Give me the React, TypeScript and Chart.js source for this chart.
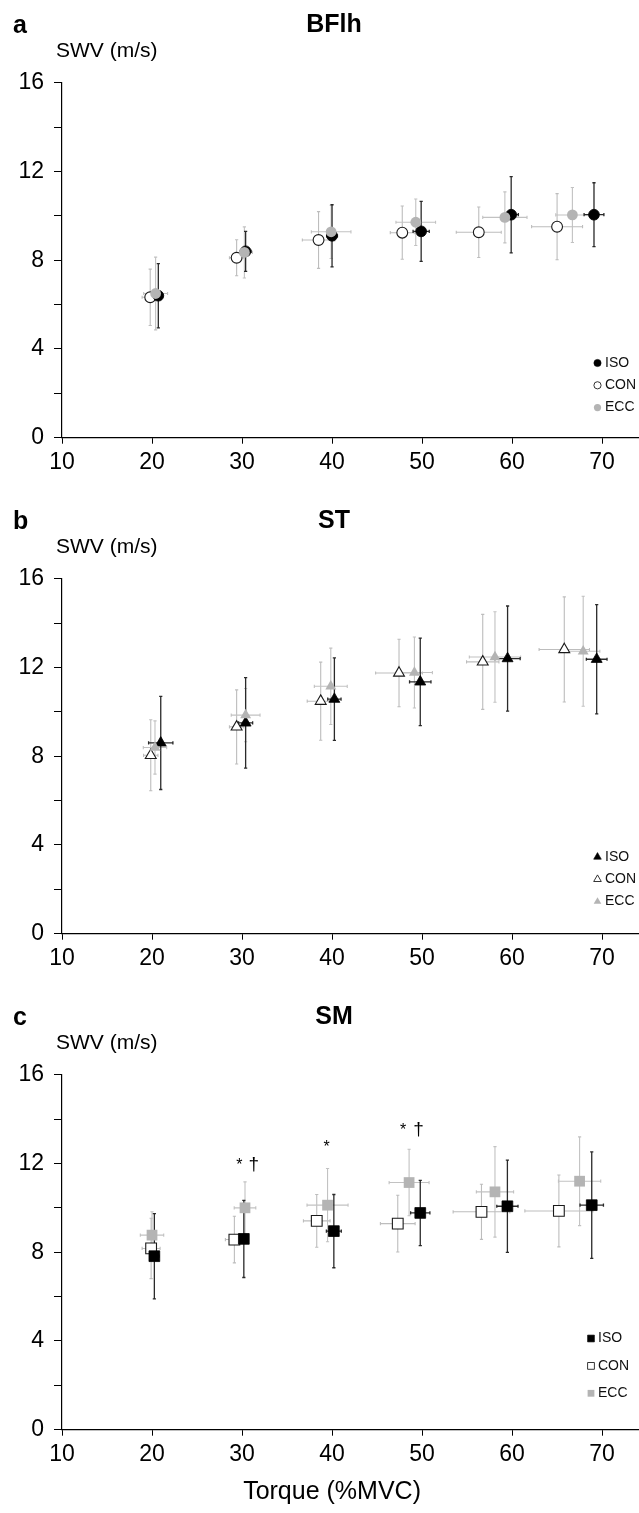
import React, { useEffect, useRef } from 'react';
import { Chart, registerables } from 'chart.js';

Chart.register(...registerables);

const FONT = '"Liberation Sans", Arial, Helvetica, sans-serif';

// ---------- axes ----------
const X_TICKS = [10, 20, 30, 40, 50, 60, 70];
const Y_TICKS = [0, 2, 4, 6, 8, 10, 12, 14, 16];
const Y_TICK_LABELS = ['0', '', '4', '', '8', '', '12', '', '16'];
const X_MIN = 10;
const X_MAX = 74.1;
const Y_MIN = 0;
const Y_MAX = 16;
const X_TITLE = 'Torque (%MVC)';
const Y_TITLE = 'SWV (m/s)';
const SERIES_NAMES = ['ISO', 'CON', 'ECC'];
const PANEL_LETTERS = ['a', 'b', 'c'];
const PANEL_TITLES = ['BFlh', 'ST', 'SM'];

// ---------- panel a: BFlh ----------
const BFLH_ISO_X = [20.7, 30.4, 40.0, 49.9, 59.9, 69.1];
const BFLH_ISO_Y = [6.4, 8.4, 9.1, 9.3, 10.05, 10.05];
const BFLH_ISO_XERR = [0.5, 0.6, 0.6, 0.9, 0.8, 1.1];
const BFLH_ISO_YERR = [1.45, 0.9, 1.4, 1.35, 1.72, 1.44];
const BFLH_CON_X = [19.8, 29.4, 38.5, 47.8, 56.3, 65.0];
const BFLH_CON_Y = [6.33, 8.11, 8.91, 9.24, 9.26, 9.51];
const BFLH_CON_XERR = [0.9, 0.8, 1.8, 1.33, 2.5, 2.83];
const BFLH_CON_YERR = [1.27, 0.81, 1.28, 1.2, 1.14, 1.49];
const BFLH_ECC_X = [20.4, 30.26, 39.9, 49.3, 59.2, 66.7];
const BFLH_ECC_Y = [6.5, 8.35, 9.28, 9.71, 9.93, 10.04];
const BFLH_ECC_XERR = [1.33, 0.9, 2.2, 2.2, 2.46, 1.85];
const BFLH_ECC_YERR = [1.64, 1.15, 1.2, 1.05, 1.15, 1.24];

// ---------- panel b: ST ----------
const ST_ISO_X = [20.97, 30.4, 40.26, 49.8, 59.5, 69.4];
const ST_ISO_Y = [8.6, 9.5, 10.57, 11.35, 12.4, 12.37];
const ST_ISO_XERR = [1.35, 0.78, 0.74, 1.19, 1.4, 1.15];
const ST_ISO_YERR = [2.1, 2.04, 1.86, 1.97, 2.37, 2.46];
const ST_CON_X = [19.86, 29.4, 38.74, 47.44, 56.74, 65.8];
const ST_CON_Y = [8.04, 9.32, 10.48, 11.75, 12.25, 12.81];
const ST_CON_XERR = [0.8, 0.8, 1.5, 2.6, 1.8, 2.8];
const ST_CON_YERR = [1.6, 1.67, 1.76, 1.52, 2.14, 2.37];
const ST_ECC_X = [20.33, 30.4, 39.86, 49.15, 58.1, 67.9];
const ST_ECC_Y = [8.39, 9.85, 11.15, 11.77, 12.47, 12.73];
const ST_ECC_XERR = [1.3, 1.6, 1.83, 2.0, 2.85, 1.85];
const ST_ECC_YERR = [1.2, 1.2, 1.72, 1.6, 2.04, 2.48];

// ---------- panel c: SM ----------
const SM_ISO_X = [20.26, 30.2, 40.2, 49.8, 59.48, 68.85];
const SM_ISO_Y = [7.82, 8.6, 8.95, 9.77, 10.07, 10.12];
const SM_ISO_XERR = [0.5, 0.5, 0.83, 1.07, 1.18, 1.3];
const SM_ISO_YERR = [1.92, 1.74, 1.65, 1.47, 2.08, 2.4];
const SM_CON_X = [19.9, 29.15, 38.3, 47.3, 56.6, 65.2];
const SM_CON_Y = [8.17, 8.57, 9.41, 9.29, 9.82, 9.86];
const SM_CON_XERR = [1.0, 1.0, 1.48, 1.93, 3.15, 3.78];
const SM_CON_YERR = [1.36, 1.05, 1.19, 1.28, 1.24, 1.62];
const SM_ECC_X = [20.0, 30.33, 39.5, 48.56, 58.1, 67.5];
const SM_ECC_Y = [8.77, 10.0, 10.12, 11.14, 10.72, 11.2];
const SM_ECC_XERR = [1.3, 1.2, 2.28, 2.22, 2.07, 2.35];
const SM_ECC_YERR = [1.05, 1.17, 1.65, 1.5, 2.04, 2.0];

// significance marks (SM panel)
const SM_MARK_TEXT = ['*', '†', '*', '*', '†'];
const SM_MARK_X = [29.7, 31.3, 39.4, 47.9, 49.6];
const SM_MARK_Y = [11.7, 11.7, 12.5, 13.27, 13.27];

// ---------- styles ----------
const STYLE = {
  ISO: { fill: '#000000', border: '#000000', borderWidth: 0.8, bar: '#2a2a2a', barWidth: 1.3, order: 2 },
  CON: { fill: '#ffffff', border: '#1a1a1a', borderWidth: 1.1, bar: '#bdbdbd', barWidth: 1.1, order: 3 },
  ECC: { fill: '#b4b4b4', border: '#b4b4b4', borderWidth: 0, bar: '#c2c2c2', barWidth: 1.1, order: 1 },
};

type PanelDef = {
  letter: string;
  title: string;
  pointStyle: string;
  radius: number;
  legendRadius: number;
  legend: { y0: number; gap: number; mx: number; tx: number };
  series: { name: string; x: number[]; y: number[]; xErr: number[]; yErr: number[] }[];
  marks?: { text: string[]; x: number[]; y: number[] };
  height: number;
  top: number;
  showXTitle: boolean;
};

const PANELS: PanelDef[] = [
  {
    letter: PANEL_LETTERS[0], title: PANEL_TITLES[0], pointStyle: 'circle', radius: 5.4, legendRadius: 3.6,
    legend: { y0: 363, gap: 22.3, mx: 597.5, tx: 605 },
    series: [
      { name: SERIES_NAMES[0], x: BFLH_ISO_X, y: BFLH_ISO_Y, xErr: BFLH_ISO_XERR, yErr: BFLH_ISO_YERR },
      { name: SERIES_NAMES[1], x: BFLH_CON_X, y: BFLH_CON_Y, xErr: BFLH_CON_XERR, yErr: BFLH_CON_YERR },
      { name: SERIES_NAMES[2], x: BFLH_ECC_X, y: BFLH_ECC_Y, xErr: BFLH_ECC_XERR, yErr: BFLH_ECC_YERR },
    ],
    height: 496, top: 0, showXTitle: false,
  },
  {
    letter: PANEL_LETTERS[1], title: PANEL_TITLES[1], pointStyle: 'triangle', radius: 6.3, legendRadius: 4.4,
    legend: { y0: 361, gap: 22.3, mx: 597.5, tx: 605 },
    series: [
      { name: SERIES_NAMES[0], x: ST_ISO_X, y: ST_ISO_Y, xErr: ST_ISO_XERR, yErr: ST_ISO_YERR },
      { name: SERIES_NAMES[1], x: ST_CON_X, y: ST_CON_Y, xErr: ST_CON_XERR, yErr: ST_CON_YERR },
      { name: SERIES_NAMES[2], x: ST_ECC_X, y: ST_ECC_Y, xErr: ST_ECC_XERR, yErr: ST_ECC_YERR },
    ],
    height: 496, top: 496, showXTitle: false,
  },
  {
    letter: PANEL_LETTERS[2], title: PANEL_TITLES[2], pointStyle: 'rect', radius: 7.6, legendRadius: 4.8,
    legend: { y0: 346.5, gap: 27.4, mx: 591, tx: 598 },
    series: [
      { name: SERIES_NAMES[0], x: SM_ISO_X, y: SM_ISO_Y, xErr: SM_ISO_XERR, yErr: SM_ISO_YERR },
      { name: SERIES_NAMES[1], x: SM_CON_X, y: SM_CON_Y, xErr: SM_CON_XERR, yErr: SM_CON_YERR },
      { name: SERIES_NAMES[2], x: SM_ECC_X, y: SM_ECC_Y, xErr: SM_ECC_XERR, yErr: SM_ECC_YERR },
    ],
    marks: { text: SM_MARK_TEXT, x: SM_MARK_X, y: SM_MARK_Y },
    height: 521, top: 992, showXTitle: true,
  },
];

const AXIS_TOP = 82.7;
const AXIS_BOTTOM = 437.7;
const AXIS_LEFT = 62;

const errorBarPlugin = {
  id: 'errorBars',
  beforeDatasetsDraw(chart: any) {
    const { ctx } = chart;
    const xs = chart.scales.x;
    const ys = chart.scales.y;
    const sets = [...chart.data.datasets].sort((a: any, b: any) => b.order - a.order);
    const drawOrder = [...sets.filter((d: any) => d.label !== 'ISO'), ...sets.filter((d: any) => d.label === 'ISO')];
    ctx.save();
    drawOrder.forEach((ds: any) => {
      ctx.strokeStyle = ds.errColor;
      ctx.lineWidth = ds.errWidth;
      ds.data.forEach((p: any, i: number) => {
        const px = xs.getPixelForValue(p.x);
        const py = ys.getPixelForValue(p.y);
        const xl = xs.getPixelForValue(p.x - ds.xErr[i]);
        const xr = xs.getPixelForValue(p.x + ds.xErr[i]);
        const yt = ys.getPixelForValue(p.y + ds.yErr[i]);
        const yb = ys.getPixelForValue(p.y - ds.yErr[i]);
        const c = 1.6;
        ctx.beginPath();
        ctx.moveTo(xl, py); ctx.lineTo(xr, py);
        ctx.moveTo(px, yt); ctx.lineTo(px, yb);
        ctx.moveTo(xl, py - c); ctx.lineTo(xl, py + c);
        ctx.moveTo(xr, py - c); ctx.lineTo(xr, py + c);
        ctx.moveTo(px - c, yt); ctx.lineTo(px + c, yt);
        ctx.moveTo(px - c, yb); ctx.lineTo(px + c, yb);
        ctx.stroke();
      });
    });
    ctx.restore();
  },
};

function drawMarker(ctx: CanvasRenderingContext2D, style: string, x: number, y: number, r: number, fill: string, border: string, bw: number) {
  ctx.beginPath();
  if (style === 'circle') {
    ctx.arc(x, y, r, 0, Math.PI * 2);
  } else if (style === 'triangle') {
    ctx.moveTo(x, y - r);
    ctx.lineTo(x + r * 0.866, y + r * 0.5);
    ctx.lineTo(x - r * 0.866, y + r * 0.5);
    ctx.closePath();
  } else {
    const s = r * Math.SQRT1_2;
    ctx.rect(x - s, y - s, 2 * s, 2 * s);
  }
  ctx.fillStyle = fill;
  ctx.fill();
  if (bw > 0) {
    ctx.strokeStyle = border;
    ctx.lineWidth = bw;
    ctx.stroke();
  }
}

function makeTextPlugin(panel: PanelDef) {
  return {
    id: 'panelText',
    afterDraw(chart: any) {
      const { ctx } = chart;
      const xs = chart.scales.x;
      const ys = chart.scales.y;
      const cx = xs.getPixelForValue(40);
      ctx.save();
      ctx.fillStyle = '#000';
      ctx.font = `bold 25px ${FONT}`;
      ctx.textAlign = 'left';
      ctx.textBaseline = 'alphabetic';
      ctx.fillText(panel.letter, 13, 33);
      ctx.font = `bold 25px ${FONT}`;
      ctx.textAlign = 'center';
      ctx.fillText(panel.title, cx + 2, 32);
      ctx.font = `21px ${FONT}`;
      ctx.textAlign = 'left';
      ctx.fillText(Y_TITLE, 56, 57);
      if (panel.showXTitle) {
        ctx.font = `25px ${FONT}`;
        ctx.textAlign = 'center';
        ctx.textBaseline = 'middle';
        ctx.fillText(X_TITLE, cx, 500);
      }
      ctx.font = `14px ${FONT}`;
      ctx.textAlign = 'left';
      ctx.textBaseline = 'middle';
      panel.series.forEach((s, i) => {
        const st = (STYLE as any)[s.name];
        const yy = panel.legend.y0 + i * panel.legend.gap;
        drawMarker(ctx, panel.pointStyle, panel.legend.mx, yy, panel.legendRadius, st.fill, st.border, st.borderWidth * 0.8);
        ctx.fillStyle = '#111';
        ctx.fillText(s.name, panel.legend.tx, yy);
      });
      if (panel.marks) {
        ctx.textAlign = 'center';
        ctx.textBaseline = 'alphabetic';
        ctx.fillStyle = '#000';
        panel.marks.text.forEach((t, i) => {
          ctx.font = t === '*' ? `16px ${FONT}` : `19px ${FONT}`;
          ctx.fillText(t, xs.getPixelForValue(panel.marks!.x[i]), ys.getPixelForValue(panel.marks!.y[i]));
        });
      }
      ctx.restore();
    },
  };
}

function Panel({ panel }: { panel: PanelDef }) {
  const ref = useRef<HTMLCanvasElement>(null);
  useEffect(() => {
    if (!ref.current) return;
    const datasets = panel.series.map((s) => {
      const st = (STYLE as any)[s.name];
      return {
        label: s.name,
        data: s.x.map((x, j) => ({ x, y: s.y[j] })),
        xErr: s.xErr,
        yErr: s.yErr,
        errColor: st.bar,
        errWidth: st.barWidth,
        order: st.order,
        pointStyle: panel.pointStyle,
        pointRadius: panel.radius,
        pointHoverRadius: panel.radius,
        pointBackgroundColor: st.fill,
        pointBorderColor: st.border,
        pointBorderWidth: st.borderWidth,
        showLine: false,
        clip: false,
      };
    });
    const chart = new Chart(ref.current, {
      type: 'scatter',
      data: { datasets: datasets as any },
      options: {
        animation: false,
        responsive: false,
        maintainAspectRatio: false,
        events: [],
        layout: { autoPadding: false, padding: { top: AXIS_TOP, left: 0, right: 0, bottom: 0 } },
        plugins: {
          legend: { display: false },
          tooltip: { enabled: false },
          title: { display: false },
        },
        scales: {
          x: {
            type: 'linear',
            position: 'bottom',
            min: X_MIN,
            max: X_MAX,
            afterBuildTicks: (s: any) => { s.ticks = X_TICKS.map((v) => ({ value: v })); },
            afterFit: (s: any) => {
              s.height = panel.height - AXIS_BOTTOM;
              s.paddingLeft = 0;
              s.paddingRight = 0;
            },
            grid: { display: true, drawOnChartArea: false, drawTicks: true, tickLength: 6, color: '#000', lineWidth: 1 },
            border: { display: true, color: '#000', width: 1.2 },
            ticks: { color: '#000', font: { family: FONT, size: 23 }, padding: 5, maxRotation: 0, autoSkip: false },
          },
          y: {
            type: 'linear',
            min: Y_MIN,
            max: Y_MAX,
            afterBuildTicks: (s: any) => { s.ticks = Y_TICKS.map((v) => ({ value: v })); },
            afterFit: (s: any) => {
              s.width = AXIS_LEFT;
              s.paddingTop = 0;
              s.paddingBottom = 0;
            },
            grid: { display: true, drawOnChartArea: false, drawTicks: true, tickLength: 8, color: '#000', lineWidth: 1 },
            border: { display: true, color: '#000', width: 1.2 },
            ticks: {
              color: '#000',
              font: { family: FONT, size: 23 },
              padding: 10,
              autoSkip: false,
              callback: (_v: any, i: number) => Y_TICK_LABELS[i],
            },
          },
        },
      } as any,
      plugins: [errorBarPlugin, makeTextPlugin(panel)],
    });
    return () => chart.destroy();
  }, [panel]);
  return (
    <div style={{ position: 'absolute', left: 0, top: panel.top, width: 639, height: panel.height }}>
      <canvas ref={ref} width={639} height={panel.height} style={{ width: 639, height: panel.height, display: 'block' }} />
    </div>
  );
}

export default function App() {
  return (
    <div style={{ position: 'absolute', left: 0, top: 0, width: 639, height: 1513, background: '#fff' }}>
      {PANELS.map((p) => (
        <Panel key={p.letter} panel={p} />
      ))}
    </div>
  );
}
